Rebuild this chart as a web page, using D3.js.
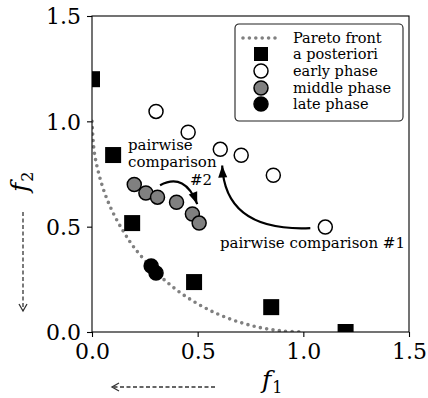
<!DOCTYPE html>
<html>
<head>
<meta charset="utf-8">
<script src="https://cdn.jsdelivr.net/npm/d3@7"></script>
<style>
  body { margin: 0; background: #fff; }
  svg { display: block; }
  text { font-family: "DejaVu Serif", serif; fill: #000; }
</style>
</head>
<body>
<svg id="chart" width="428" height="398"></svg>
<script>
// values
const tickValues = [0, 0.5, 1.0, 1.5];
const tickLabels = ["0.0", "0.5", "1.0", "1.5"];

const paretoF1 = [0, 0.01, 0.03, 0.06, 0.10, 0.15, 0.20, 0.30, 0.40, 0.50, 0.60, 0.70, 0.80, 0.90, 1.0];
const paretoF2 = [1.0, 0.86, 0.76, 0.66, 0.565, 0.475, 0.40, 0.287, 0.20, 0.134, 0.083, 0.046, 0.02, 0.005, 0];

const aposF1 = [0.0, 0.10, 0.19, 0.483, 0.848, 1.20];
const aposF2 = [1.20, 0.84, 0.517, 0.237, 0.118, 0.0];

const earlyF1 = [0.303, 0.455, 0.607, 0.706, 0.858, 1.104];
const earlyF2 = [1.047, 0.948, 0.867, 0.839, 0.744, 0.498];

const middleF1 = [0.20, 0.255, 0.31, 0.40, 0.475, 0.507];
const middleF2 = [0.70, 0.66, 0.64, 0.616, 0.56, 0.517];

const lateF1 = [0.28, 0.303];
const lateF2 = [0.313, 0.28];

const legendLabels = ["Pareto front", "a posteriori", "early phase", "middle phase", "late phase"];

// annotation anchors in data units: start, control, tip
const arrow1 = [[1.033, 0.493], [0.63, 0.475], [0.616, 0.79]];
const arrow2 = [[0.322, 0.697], [0.441, 0.758], [0.498, 0.607]];

const svg = d3.select("#chart");
const margin = { top: 16, right: 19, bottom: 66, left: 92 };
const width = 428 - margin.left - margin.right;
const height = 398 - margin.top - margin.bottom;

const x = d3.scaleLinear().domain([0, 1.5]).range([0, width]);
const y = d3.scaleLinear().domain([0, 1.5]).range([height, 0]);

const g = svg.append("g").attr("transform", "translate(" + margin.left + "," + margin.top + ")");

g.append("clipPath").attr("id", "clip")
  .append("rect").attr("width", width).attr("height", height);
const plot = g.append("g").attr("clip-path", "url(#clip)");

// pareto front, dotted
const pareto = paretoF1.map((v, i) => [v, paretoF2[i]]);
const line = d3.line().x(d => x(d[0])).y(d => y(d[1])).curve(d3.curveCatmullRom);
plot.append("path")
  .datum(pareto)
  .attr("d", line)
  .attr("fill", "none")
  .attr("stroke", "#808080")
  .attr("stroke-width", 3.6)
  .attr("stroke-linecap", "round")
  .attr("stroke-dasharray", "0 6.4");

// a posteriori squares
const sq = 16;
plot.selectAll(".apos")
  .data(aposF1.map((v, i) => [v, aposF2[i]]))
  .enter().append("rect")
  .attr("x", d => x(d[0]) - sq / 2)
  .attr("y", d => y(d[1]) - sq / 2)
  .attr("width", sq).attr("height", sq)
  .attr("fill", "#000");

function circles(f1, f2, fill) {
  plot.selectAll(null)
    .data(f1.map((v, i) => [v, f2[i]]))
    .enter().append("circle")
    .attr("cx", d => x(d[0]))
    .attr("cy", d => y(d[1]))
    .attr("r", 7)
    .attr("fill", fill)
    .attr("stroke", "#000")
    .attr("stroke-width", 1.5);
}
circles(earlyF1, earlyF2, "#fff");
circles(middleF1, middleF2, "#808080");
circles(lateF1, lateF2, "#000");

// frame
g.append("rect").attr("width", width).attr("height", height)
  .attr("fill", "none").attr("stroke", "#000").attr("stroke-width", 1.1);

// axes
const xAxis = g.append("g").attr("transform", "translate(0," + height + ")")
  .call(d3.axisBottom(x).tickValues(tickValues).tickFormat((d, i) => tickLabels[i]).tickSize(5).tickPadding(5));
const yAxis = g.append("g")
  .call(d3.axisLeft(y).tickValues(tickValues).tickFormat((d, i) => tickLabels[i]).tickSize(5).tickPadding(6));
[xAxis, yAxis].forEach(a => {
  a.select(".domain").remove();
  a.selectAll("line").attr("stroke", "#000").attr("stroke-width", 1.1);
  a.selectAll("text").style("font-family", '"DejaVu Serif", serif').style("font-size", "22px").attr("fill", "#000");
});
xAxis.selectAll("text").attr("dy", "0.78em");
yAxis.selectAll("text").attr("dy", "0.36em");

// annotation arrows
function curvedArrow(pts) {
  const p = pts.map(d => [x(d[0]), y(d[1])]);
  g.append("path")
    .attr("d", "M" + p[0] + "Q" + p[1] + " " + p[2])
    .attr("fill", "none").attr("stroke", "#000").attr("stroke-width", 2.2);
  const ang = Math.atan2(p[2][1] - p[1][1], p[2][0] - p[1][0]);
  const L = 12, W = 4.5;
  const tip = p[2];
  const bx = tip[0] - L * Math.cos(ang), by = tip[1] - L * Math.sin(ang);
  const nx = -Math.sin(ang) * W, ny = Math.cos(ang) * W;
  g.append("path")
    .attr("d", "M" + tip + "L" + [bx + nx, by + ny] + "L" + [bx - nx, by - ny] + "Z")
    .attr("fill", "#000");
}
curvedArrow(arrow1);
curvedArrow(arrow2);

g.append("text").attr("x", 128).attr("y", 232).style("font-size", "15px")
  .text("pairwise comparison #1");
g.append("text").attr("x", 36).attr("y", 134).style("font-size", "15px").text("pairwise");
g.append("text").attr("x", 36).attr("y", 151).style("font-size", "15px").text("comparison");
g.append("text").attr("x", 120).attr("y", 169).attr("text-anchor", "end").style("font-size", "15px").text("#2");

// legend
const lg = svg.append("g").attr("transform", "translate(235,24)");
lg.append("rect").attr("width", 168).attr("height", 97).attr("rx", 4)
  .attr("fill", "#fff").attr("stroke", "#222").attr("stroke-width", 1.1);
const rowY = [14, 30, 47, 64, 80];
legendLabels.forEach((lab, i) => {
  const cy = rowY[i];
  if (i === 0) {
    lg.append("line").attr("x1", 8).attr("x2", 44).attr("y1", cy).attr("y2", cy)
      .attr("stroke", "#808080").attr("stroke-width", 3.6)
      .attr("stroke-linecap", "round").attr("stroke-dasharray", "0 6.4");
  } else if (i === 1) {
    lg.append("rect").attr("x", 26 - 7).attr("y", cy - 7).attr("width", 14).attr("height", 14).attr("fill", "#000");
  } else {
    lg.append("circle").attr("cx", 26).attr("cy", cy).attr("r", 7)
      .attr("fill", ["#fff", "#808080", "#000"][i - 2])
      .attr("stroke", "#000").attr("stroke-width", 1.5);
  }
  lg.append("text").attr("x", 58).attr("y", cy + 5).style("font-size", "14.5px").text(lab);
});

// axis labels with direction arrows
function dashedArrow(x1, y1, x2, y2) {
  svg.append("line").attr("x1", x1).attr("y1", y1).attr("x2", x2).attr("y2", y2)
    .attr("stroke", "#333").attr("stroke-width", 1.3).attr("stroke-dasharray", "4 2.5");
  const ang = Math.atan2(y2 - y1, x2 - x1);
  const L = 7, W = 4;
  const bx = x2 - L * Math.cos(ang), by = y2 - L * Math.sin(ang);
  const nx = -Math.sin(ang) * W, ny = Math.cos(ang) * W;
  svg.append("path")
    .attr("d", "M" + [bx + nx, by + ny] + "L" + [x2, y2] + "L" + [bx - nx, by - ny])
    .attr("fill", "none").attr("stroke", "#333").attr("stroke-width", 1.3);
}
dashedArrow(215, 387, 112, 387);
dashedArrow(23, 212, 23, 311);

const f1 = svg.append("text").attr("x", 262).attr("y", 388);
f1.append("tspan").style("font-size", "25px").style("font-style", "italic").text("f");
f1.append("tspan").style("font-size", "16px").attr("dy", 5).attr("dx", 1).text("1");

const f2 = svg.append("text").attr("transform", "translate(28,192) rotate(-90)");
f2.append("tspan").style("font-size", "25px").style("font-style", "italic").text("f");
f2.append("tspan").style("font-size", "16px").attr("dy", 5).attr("dx", 1).text("2");
</script>
</body>
</html>
